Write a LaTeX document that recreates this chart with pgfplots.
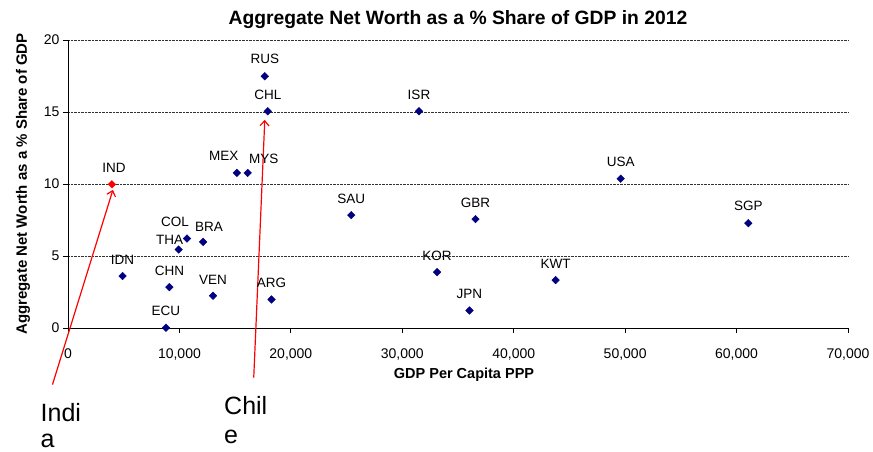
\documentclass[border=0pt]{standalone}
\usepackage{pgfplots}
\pgfplotsset{compat=1.18}
\usetikzlibrary{arrows.meta}
\usepackage{fontspec}
\setmainfont{Liberation Sans}
\definecolor{navy}{RGB}{0,0,128}
\pgfplotstableread{
x y lab dx dy
17660 17.48 RUS 0 1
17930 15.05 CHL 0 0
31500 15.05 ISR 0 0
15150 10.77 MEX -13 1
16130 10.77 MYS 16 -2
25420 7.84 SAU 0 0
36570 7.56 GBR 0 0
49600 10.37 USA 0 1
61050 7.28 SGP 0 1
33120 3.88 KOR 0 0
43760 3.33 KWT 0 0
36030 1.22 JPN 0 1
10680 6.21 COL -12 1
12120 5.98 BRA 6 -1
9930 5.45 THA -9 -6
4900 3.61 IDN 0 0
9100 2.84 CHN 0 0
13020 2.24 VEN 0 0
18270 1.98 ARG 0 1
8790 0.02 ECU 0 1
}\data
\pgfplotstableread{
x y lab dx dy
3940 9.98 IND 2 0
}\india
\begin{document}
\begin{tikzpicture}
\path[use as bounding box] (-68pt,-124pt) rectangle (805pt,328pt);
\begin{axis}[
  at={(0pt,0pt)}, anchor=south west,
  scale only axis, width=780pt, height=288pt,
  xmin=0, xmax=70000, ymin=0, ymax=20,
  axis x line*=bottom, axis y line*=left,
  axis line style={black, line width=0.8pt},
  xtick={0,10000,...,70000}, ytick={0,5,...,20},
  scaled x ticks=false,
  /pgf/number format/assume math mode=true,
  tick label style={font=\fontsize{14}{14}\selectfont},
  x tick label style={yshift=-12pt, /pgf/number format/.cd, fixed, 1000 sep={,}},
  tick align=outside, major tick length=5pt,
  tick style={black, line width=0.8pt},
  ymajorgrids, grid style={densely dotted, black!80, line width=0.8pt},
  title={Aggregate Net Worth as a \% Share of GDP in 2012},
  title style={font=\bfseries\fontsize{19.3}{21}\selectfont, at={(axis description cs:0.5,1)}, anchor=center, yshift=14pt},
  xlabel={GDP Per Capita PPP},
  xlabel style={font=\bfseries\fontsize{14.5}{16}\selectfont, at={(axis description cs:0.5077,0)}, anchor=center, yshift=-47pt},
  ylabel={Aggregate Net Worth as a \% Share of GDP},
  ylabel style={font=\bfseries\fontsize{15}{16}\selectfont, at={(axis description cs:-0.0577,0.5)}, anchor=center},
  clip=false,
  point meta=explicit symbolic,
  nodes near coords,
  visualization depends on={\thisrow{dx} \as \dx},
  visualization depends on={\thisrow{dy} \as \dy},
  nodes near coords style={anchor=center, xshift=\dx pt, yshift=16pt+\dy pt, font=\fontsize{13.5}{14}\selectfont, text=black, inner sep=0pt},
]
\addplot[only marks, mark=square*, mark size=2.7pt, mark options={rotate=45}, color=navy] table[x=x, y=y, meta=lab] {\data};
\addplot[only marks, mark=square*, mark size=2.7pt, mark options={rotate=45}, color=red] table[x=x, y=y, meta=lab] {\india};
\draw[red, line width=1.2pt, -{Straight Barb[length=5pt,width=9pt]}] (axis cs:-1393,-3.93) -- (axis cs:4030,9.59);
\draw[red, line width=1.2pt, -{Straight Barb[length=5pt,width=9pt]}] (axis cs:16670,-3.44) -- (axis cs:17660,14.45);
\end{axis}
\node[anchor=base west, inner sep=0pt, font=\fontsize{25}{28}\selectfont] at (-27.5pt,-94pt) {Indi};
\node[anchor=base west, inner sep=0pt, font=\fontsize{25}{28}\selectfont] at (-27.5pt,-119pt) {a};
\node[anchor=base west, inner sep=0pt, font=\fontsize{25}{28}\selectfont] at (156pt,-87pt) {Chil};
\node[anchor=base west, inner sep=0pt, font=\fontsize{25}{28}\selectfont] at (156pt,-115pt) {e};
\end{tikzpicture}
\end{document}
